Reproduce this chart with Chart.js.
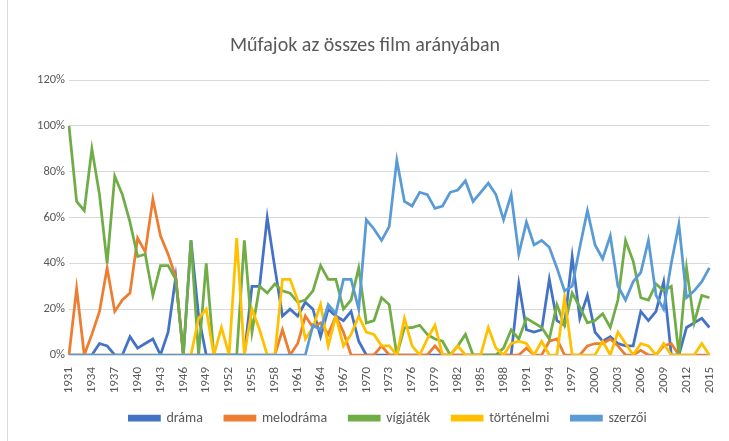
<!DOCTYPE html>
<html lang="hu">
<head>
<meta charset="utf-8">
<title>Műfajok az összes film arányában</title>
<script src="https://cdn.jsdelivr.net/npm/chart.js@4.4.1/dist/chart.umd.min.js"></script>
<style>
  html, body { margin: 0; padding: 0; background: #fff; }
  .wrap { position: relative; width: 729px; height: 441px; }
  .frame { position: absolute; left: 7px; top: 0; bottom: 0; border-left: 1px solid #d9d9d9; }
</style>
</head>
<body>
<div class="wrap">
  <canvas id="mufajok" width="729" height="441"></canvas>
  <div class="frame"></div>
</div>
<script>
let years = ['1931','1932','1933','1934','1935','1936','1937','1938','1939','1940',
  '1941','1942','1943','1944','1945','1946','1947','1948','1949','1950',
  '1951','1952','1953','1954','1955','1956','1957','1958','1959','1960',
  '1961','1962','1963','1964','1965','1966','1967','1968','1969','1970',
  '1971','1972','1973','1974','1975','1976','1977','1978','1979','1980',
  '1981','1982','1983','1984','1985','1986','1987','1988','1989','1990',
  '1991','1992','1993','1994','1995','1996','1997','1998','1999','2000',
  '2001','2002','2003','2004','2005','2006','2007','2008','2009','2010',
  '2011','2012','2013','2014','2015'];

let drama = [0,0,0,0,5,4,0,0,8,3,
  5,7,0,10,34,0,50,17,0,0,
  0,0,0,0,30,30,60,38,17,20,
  17,23,20,8,20,17,15,19,6,0,
  0,0,0,0,0,0,0,0,0,0,
  0,0,0,0,0,0,0,0,0,31,
  11,10,11,33,15,13,43,16,26,10,
  6,8,5,4,4,19,15,19,32,0,
  0,12,14,16,12];

let melodrama = [0,29,0,9,19,38,19,24,27,51,
  45,68,52,44,34,0,0,0,0,0,
  0,0,0,0,0,0,0,0,11,0,
  5,17,12,14,9,17,10,0,0,0,
  0,4,0,0,0,0,0,0,4,0,
  0,0,0,0,0,0,0,0,0,0,
  3,0,0,6,7,0,0,0,4,5,
  5,7,4,0,0,2,0,0,4,5,
  0,0,0,0,0];

let vigjatek = [100,67,63,90,70,40,78,70,58,43,
  44,26,39,39,33,0,50,0,40,0,
  0,0,0,50,10,30,27,31,28,27,
  23,24,28,39,33,33,20,24,38,14,
  15,25,22,0,12,12,13,9,7,6,
  0,4,9,0,0,0,0,3,11,7,
  16,14,12,7,22,13,27,21,14,15,
  18,12,24,50,41,25,24,31,28,30,
  0,38,14,26,25];

let tortenelmi = [0,0,0,0,0,0,0,0,0,0,
  0,0,0,0,0,0,0,16,20,0,
  12,0,51,0,20,11,0,0,33,33,
  24,7,12,22,4,17,4,9,17,10,
  9,4,4,0,16,4,0,7,13,0,
  0,4,0,0,0,12,3,0,5,6,
  5,0,6,0,0,25,0,0,0,0,
  6,0,10,5,0,5,4,0,5,0,
  0,0,0,5,0];

let szerzoi = [0,0,0,0,0,0,0,0,0,0,
  0,0,0,0,0,0,0,0,0,0,
  0,0,0,0,0,0,0,0,0,0,
  0,0,13,11,22,18,33,33,20,59,
  55,50,56,85,67,65,71,70,64,65,
  71,72,76,67,71,75,70,59,70,44,
  58,48,50,47,38,28,30,47,63,48,
  42,52,30,24,32,36,50,26,20,40,
  57,25,28,32,38];

let seriesNames = ['dráma','melodráma','vígjáték','történelmi','szerzői'];
let seriesData = [drama, melodrama, vigjatek, tortenelmi, szerzoi];
let seriesColors = ['#4472C4','#ED7D31','#70AD47','#FFC000','#5B9BD5'];
let yTicks = [0,20,40,60,80,100,120];

let font = "Carlito, Calibri, Lato, 'Liberation Sans', sans-serif";
let textColor = '#595959';

let datasets = [];
for (let i = 0; i < seriesNames.length; i++) {
    datasets.push({
        label: seriesNames[i],
        data: seriesData[i],
        borderColor: seriesColors[i],
        backgroundColor: seriesColors[i],
        borderWidth: 2.75,
        pointRadius: 0,
        tension: 0,
        // excel draws the last series on top
        order: seriesNames.length - i
    });
}

// the excel legend sits a bit right of the middle and close to the year labels
let moveLegend = {
    id: 'moveLegend',
    afterLayout: function (chart) {
        chart.legend.left += 23;
        chart.legend.right += 23;
        chart.legend.top -= 8;
        chart.legend.bottom -= 8;
    }
};

let graph = document.querySelector('#mufajok').getContext('2d');

var chart = new Chart(graph, {
    type: 'line',
    data: {
        labels: years,
        datasets: datasets
    },
    plugins: [moveLegend],
    options: {
        responsive: false,
        animation: false,
        layout: {
            padding: { left: 8, right: 7, top: 0, bottom: 0 }
        },
        scales: {
            x: {
                offset: false,
                grid: { display: false },
                border: { display: true, color: '#d9d9d9' },
                ticks: {
                    autoSkip: false,
                    maxRotation: 90,
                    minRotation: 90,
                    padding: 4,
                    color: textColor,
                    font: { family: font, size: 13 },
                    callback: function (value, index) {
                        return index % 3 === 0 ? this.getLabelForValue(value) : null;
                    }
                },
                afterFit: function (scale) { scale.height = 42; }
            },
            y: {
                min: yTicks[0],
                max: yTicks[yTicks.length - 1],
                border: { display: false },
                grid: { color: '#d9d9d9', lineWidth: 1, drawTicks: false },
                ticks: {
                    stepSize: yTicks[1] - yTicks[0],
                    padding: 4,
                    color: textColor,
                    font: { family: font, size: 12.5 },
                    callback: function (v) { return v + '%'; }
                },
                afterFit: function (scale) { scale.width = 61; }
            }
        },
        plugins: {
            title: {
                display: true,
                text: 'Műfajok az összes film arányában',
                color: textColor,
                font: { family: font, size: 20, weight: 'normal' },
                padding: { top: 34, bottom: 22 }
            },
            legend: {
                display: true,
                position: 'bottom',
                maxHeight: 44,
                labels: {
                    boxWidth: 30,
                    boxHeight: 4,
                    padding: 22,
                    color: textColor,
                    font: { family: font, size: 14 },
                    sort: function (a, b) { return a.datasetIndex - b.datasetIndex; }
                }
            },
            tooltip: { enabled: false }
        }
    }
});
</script>
</body>
</html>
